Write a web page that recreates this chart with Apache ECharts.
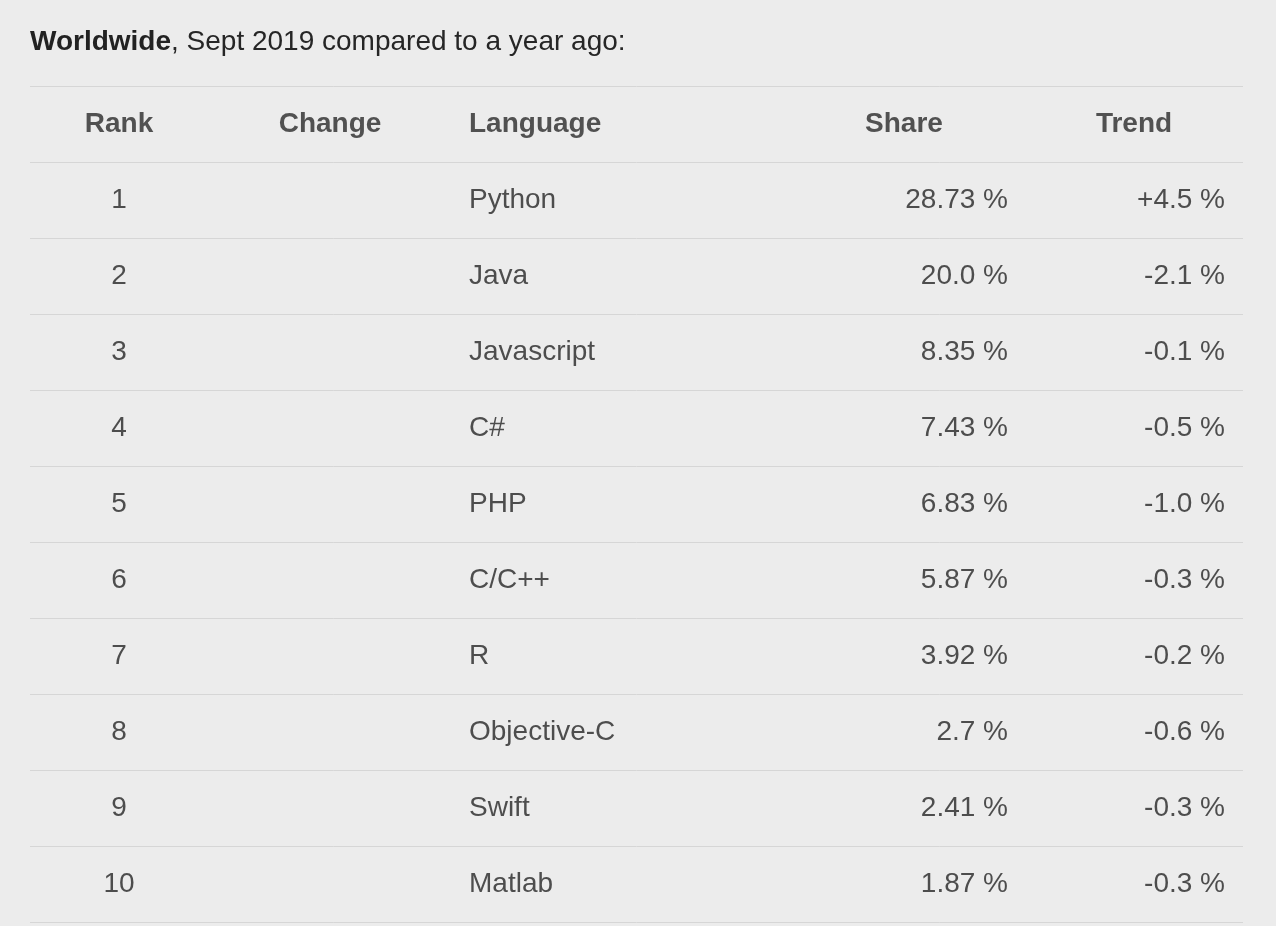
<!DOCTYPE html>
<html>
<head>
<meta charset="utf-8">
<script src="https://cdn.jsdelivr.net/npm/echarts@6/dist/echarts.min.js"></script>
<style>
  html, body { margin: 0; padding: 0; background: #ececec; }
  #chart { width: 1276px; height: 926px; }
</style>
</head>
<body>
<div id="chart"></div>
<script>
var headers = ['Rank', 'Change', 'Language', 'Share', 'Trend'];
var ranks = ['1', '2', '3', '4', '5', '6', '7', '8', '9', '10'];
var changes = ['', '', '', '', '', '', '', '', '', ''];
var languages = ['Python', 'Java', 'Javascript', 'C#', 'PHP', 'C/C++', 'R', 'Objective-C', 'Swift', 'Matlab'];
var shares = ['28.73 %', '20.0 %', '8.35 %', '7.43 %', '6.83 %', '5.87 %', '3.92 %', '2.7 %', '2.41 %', '1.87 %'];
var trends = ['+4.5 %', '-2.1 %', '-0.1 %', '-0.5 %', '-1.0 %', '-0.3 %', '-0.2 %', '-0.6 %', '-0.3 %', '-0.3 %'];

var rows = ['header'].concat(ranks);

// column anchor (x in px) and alignment for body / header
var columns = [
    { values: ranks, x: 119, align: 'center', hx: 119, halign: 'center' },
    { values: changes, x: 330, align: 'center', hx: 330, halign: 'center' },
    { values: languages, x: 469, align: 'left', hx: 469, halign: 'left' },
    { values: shares, x: 1008, align: 'right', hx: 904, halign: 'center' },
    { values: trends, x: 1225, align: 'right', hx: 1134, halign: 'center' }
];

var chart = echarts.init(document.getElementById('chart'));
var series = [];
columns.forEach(function (col, ci) {
    // header cell
    series.push({
        type: 'scatter',
        symbolSize: 0,
        silent: true,
        data: [{ value: [col.hx, 0], name: headers[ci] }],
        label: {
            show: true, position: 'inside', align: col.halign,
            formatter: '{b}', color: '#2a2a2a', fontSize: 28, fontWeight: 'bold',
            fontFamily: 'Liberation Sans'
        }
    });
    // body cells
    series.push({
        type: 'scatter',
        symbolSize: 0,
        silent: true,
        data: col.values.map(function (v, i) {
            return { value: [col.x, i + 1], name: v };
        }),
        label: {
            show: true, position: 'inside', align: col.align,
            formatter: '{b}', color: '#262626', fontSize: 28,
            fontFamily: 'Liberation Sans'
        }
    });
});

var option = {
    backgroundColor: '#ececec',
    animation: false,
    title: {
        text: '{b|Worldwide}, Sept 2019 compared to a year ago:',
        left: 30,
        top: 28,
        padding: 0,
        textStyle: {
            fontSize: 28, fontWeight: 'normal', color: '#262626', fontFamily: 'Liberation Sans',
            rich: { b: { fontSize: 28, fontWeight: 'bold', color: '#222', fontFamily: 'Liberation Sans' } }
        }
    },
    grid: { left: 30, right: 33, top: 86, bottom: 4 },
    xAxis: { type: 'value', min: 30, max: 1243, show: false },
    yAxis: {
        type: 'category',
        data: rows,
        inverse: true,
        boundaryGap: true,
        axisLine: { show: false },
        axisTick: { show: false },
        axisLabel: { show: false },
        splitLine: { show: true, lineStyle: { color: '#d6d6d6', width: 1 } }
    },
    series: series
};
chart.setOption(option);
</script>
</body>
</html>
